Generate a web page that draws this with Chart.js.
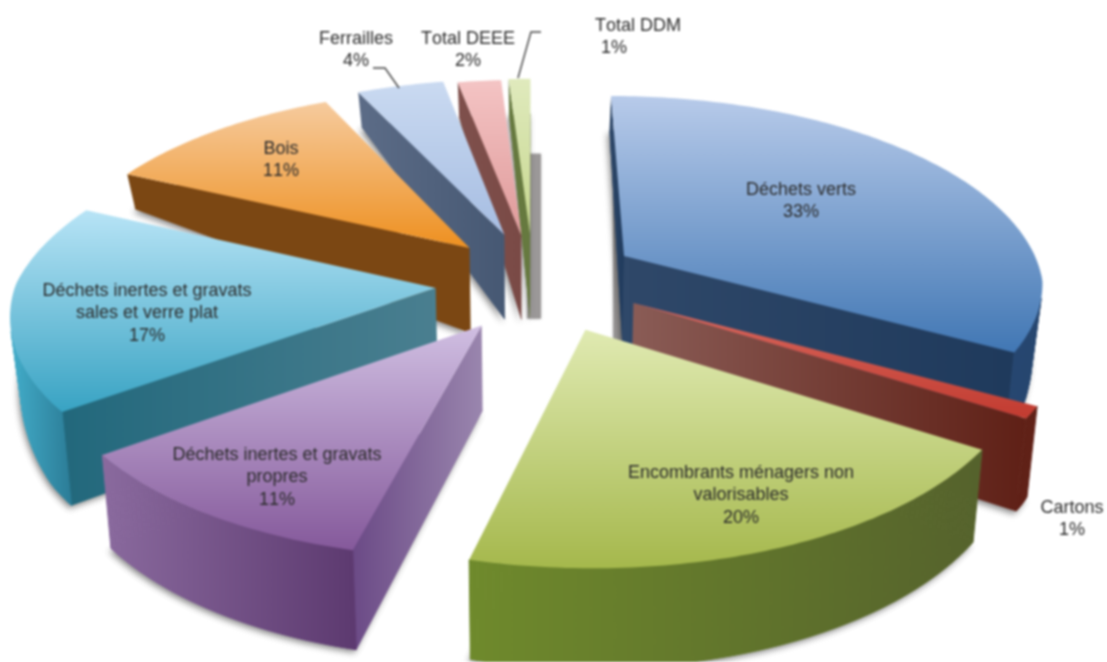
<!DOCTYPE html>
<html>
<head>
<meta charset="utf-8">
<script src="https://cdn.jsdelivr.net/npm/chart.js@4"></script>
<style>
  html, body { margin: 0; background: #fff; }
  canvas { display: block; filter: blur(0.8px); }
</style>
</head>
<body>
<canvas id="myChart" width="1107" height="662"></canvas>
<script>
const categories = ['Déchets verts', 'Cartons', 'Encombrants ménagers non valorisables',
    'Déchets inertes et gravats propres', 'Déchets inertes et gravats sales et verre plat',
    'Bois', 'Ferrailles', 'Total DEEE', 'Total DDM'];
const shares = [33, 1, 20, 11, 17, 11, 4, 2, 1];

// how far each slice is pulled out of the pie, and a small hand correction in px
const explode = [74, 77, 87, 67, 64, 60, 68, 66, 68];
const nudge = [[3, 1], [5, -4], [7, -7], [8, 7], [-1, 4], [0, -4], [4, -3], [3, -2], [3, -2]];

// top face [far, near], radial walls [left, right], rim [left, right]
const topColors = [['#b8cbea', '#4177b4'], ['#d9695f', '#c23b30'], ['#e0eab2', '#a5b84c'],
    ['#d0bfe2', '#85599b'], ['#b8e4f6', '#38a3c3'], ['#f6cb9e', '#ee9020'],
    ['#cadaf1', '#a6bde2'], ['#f4c4c4', '#df9a9a'], ['#e0eabd', '#c6d78e']];
const wallColors = [['#2f4869', '#1f3a5c'], ['#8a5c56', '#5f2016'], ['#6d8430', '#5a6a2e'],
    ['#6b4a86', '#9a86ae'], ['#22687c', '#4a7f90'], ['#7b4713', '#7b4713'],
    ['#5c6c87', '#465873'], ['#7f504c', '#7a4a46'], ['#66793f', '#66793f']];
const rimColors = [['#2e5080', '#26466f'], ['#5f2016', '#5f2016'], ['#6f8a2c', '#55622c'],
    ['#8a6a9e', '#5d3a70'], ['#43aecb', '#26708a'], ['#7b4713', '#7b4713'],
    ['#5c6c87', '#5c6c87'], ['#7f504c', '#7f504c'], ['#66793f', '#66793f']];

const labelLines = [['Déchets verts', '33%'], ['Cartons', '1%'],
    ['Encombrants ménagers non', 'valorisables', '20%'],
    ['Déchets inertes et gravats', 'propres', '11%'],
    ['Déchets inertes et gravats', 'sales et verre plat', '17%'],
    ['Bois', '11%'], ['Ferrailles', '4%'], ['Total DEEE', '2%'], ['Total DDM', '1%']];
const labelSpots = [[801, 190], [1072, 508], [741, 473], [277, 455], [147, 291],
    [281, 149], [356, 39], [468, 39], [638, 26]];
const labelLeading = 22.5;

// grey band thrown behind a slice: [slice, side offset, width, height]
const castShadows = [[8, -3, 14, 165], [0, -9, 10, 170]];

const centerX = 530, centerY = 280;
const radiusX = 420, radiusY = 195;
const perspectiveNear = 0.12, perspectiveFar = 0.17;
const apexDepth = 85;

function project(u, v) {
    const s = 1 / (1 - (v < 0 ? perspectiveFar : perspectiveNear) * v);
    return [centerX + radiusX * u * s, centerY + radiusY * v * s];
}

function rimDepth(v) {
    if (v < -0.4) return 35;
    if (v < 0.5) return 35 + (v + 0.4) / 0.9 * 57;
    return 92 + (v - 0.5) * 16;
}

function lower(p, depth) {
    return [p[0] - (p[0] - centerX) * 0.02, p[1] + depth];
}

function poly(ctx, pts) {
    ctx.beginPath();
    pts.forEach((p, i) => i ? ctx.lineTo(p[0], p[1]) : ctx.moveTo(p[0], p[1]));
    ctx.closePath();
}

function area(pts) {
    let a = 0;
    pts.forEach((p, i) => {
        const q = pts[(i + 1) % pts.length];
        a += p[0] * q[1] - q[0] * p[1];
    });
    return a;
}

function gradientX(ctx, pts, colors) {
    const xs = pts.map(p => p[0]);
    const g = ctx.createLinearGradient(Math.min(...xs), 0, Math.max(...xs), 0);
    g.addColorStop(0, colors[0]);
    g.addColorStop(1, colors[1]);
    return g;
}

function sliceApex(arc, i) {
    const off = arc.options.offset / arc.outerRadius;
    const mid = (arc.startAngle + arc.endAngle) / 2 + Math.PI / 2;
    return {ou: off * Math.sin(mid), ov: -off * Math.cos(mid)};
}

function place(u, v, i) {
    const p = project(u, v);
    return [p[0] + nudge[i][0], p[1] + nudge[i][1]];
}

function drawCastShadow(ctx, arc, i, side, width, height) {
    const a = sliceApex(arc, i);
    const low = lower(place(a.ou, a.ov, i), apexDepth);
    const x = low[0] + side;
    ctx.save();
    ctx.shadowColor = 'rgba(90,90,90,0.5)';
    ctx.shadowBlur = 3;
    ctx.fillStyle = '#9b9898';
    ctx.fillRect(x, low[1] - height, width, height);
    ctx.restore();
}

function drawSlice(ctx, arc, i) {
    const a0 = arc.startAngle + Math.PI / 2, a1 = arc.endAngle + Math.PI / 2;
    const {ou, ov} = sliceApex(arc, i);

    const apex = place(ou, ov, i);
    const apexLow = lower(apex, apexDepth);
    const rim = [], rimLow = [];
    const steps = Math.max(2, Math.ceil((a1 - a0) * 60));
    for (let k = 0; k <= steps; k++) {
        const a = a0 + (a1 - a0) * k / steps;
        const p = place(ou + Math.sin(a), ov - Math.cos(a), i);
        rim.push(p);
        rimLow.push(lower(p, rimDepth(-Math.cos(a))));
    }

    // soft shadow under the whole block
    ctx.save();
    ctx.shadowColor = 'rgba(40,40,40,0.55)';
    ctx.shadowBlur = 6;
    ctx.shadowOffsetY = 3;
    ctx.shadowOffsetX = -2;
    ctx.fillStyle = wallColors[i][0];
    poly(ctx, [apexLow, ...rimLow]);
    ctx.fill();
    ctx.restore();

    // radial walls
    const walls = [[apex, rim[0], rimLow[0], apexLow],
        [rim[steps], apex, apexLow, rimLow[steps]]];
    walls.forEach(q => {
        if (area(q) < 0) {
            ctx.fillStyle = gradientX(ctx, q, wallColors[i]);
            poly(ctx, q);
            ctx.fill();
        }
    });

    // outer rim, only the segments that face us
    const rimFill = gradientX(ctx, rim, rimColors[i]);
    for (let k = 0; k < steps; k++) {
        const q = [rim[k], rim[k + 1], rimLow[k + 1], rimLow[k]];
        if (area(q) < 0) {
            ctx.fillStyle = rimFill;
            ctx.strokeStyle = rimFill;
            ctx.lineWidth = 1;
            poly(ctx, q);
            ctx.fill();
            ctx.stroke();
        }
    }

    // top face
    const face = [apex, ...rim];
    const ys = face.map(p => p[1]);
    const g = ctx.createLinearGradient(0, Math.min(...ys), 0, Math.max(...ys));
    g.addColorStop(0, topColors[i][0]);
    g.addColorStop(1, topColors[i][1]);
    ctx.fillStyle = g;
    poly(ctx, face);
    ctx.fill();
}

const solidPie = {
    id: 'solidPie',
    beforeDatasetDraw(chart, args) {
        const ctx = chart.ctx;
        const arcs = chart.getDatasetMeta(args.index).data;
        castShadows.forEach(c => drawCastShadow(ctx, arcs[c[0]], c[0], c[1], c[2], c[3]));
        const order = arcs.map((arc, i) => {
            const mid = (arc.startAngle + arc.endAngle) / 2 + Math.PI / 2;
            return {arc, i, depth: -Math.cos(mid)};
        }).sort((a, b) => a.depth - b.depth);
        order.forEach(o => drawSlice(ctx, o.arc, o.i));
        return false;
    },
    afterDraw(chart) {
        const ctx = chart.ctx;
        ctx.save();
        // leader lines of the small slices
        ctx.strokeStyle = '#444';
        ctx.lineWidth = 1.4;
        ctx.beginPath();
        ctx.moveTo(373, 68); ctx.lineTo(385, 68); ctx.lineTo(399, 88);
        ctx.moveTo(518, 78); ctx.lineTo(531, 32); ctx.lineTo(541, 32);
        ctx.stroke();

        ctx.fillStyle = '#2b2b2b';
        ctx.font = '18px "Liberation Sans"';
        ctx.fontKerning = 'none';
        ctx.textAlign = 'center';
        ctx.textBaseline = 'middle';
        labelLines.forEach((lines, i) => {
            lines.forEach((line, k) => {
                let x = labelSpots[i][0];
                if (i === 8 && k === 1) x = 614;
                ctx.fillText(line, x, labelSpots[i][1] + k * labelLeading);
            });
        });
        ctx.restore();
    }
};

new Chart(document.getElementById('myChart'), {
    type: 'pie',
    data: {
        labels: categories,
        datasets: [{
            data: shares,
            offset: explode,
            borderWidth: 0,
            backgroundColor: topColors.map(c => c[1])
        }]
    },
    options: {
        responsive: false,
        animation: false,
        events: [],
        plugins: {
            legend: {display: false},
            tooltip: {enabled: false}
        }
    },
    plugins: [solidPie]
});
</script>
</body>
</html>
